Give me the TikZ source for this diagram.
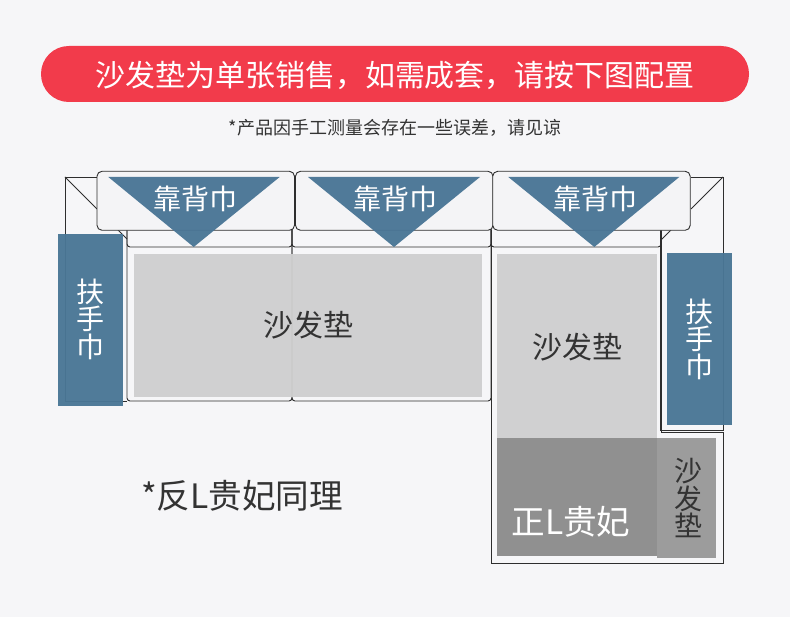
\documentclass[tikz,border=0pt]{standalone}
\usepackage{fontspec}
\usepackage{xcolor}
\setmainfont{Noto Sans CJK SC}
\definecolor{pagebg}{HTML}{F6F6F8}
\definecolor{pillred}{HTML}{F23B4B}
\definecolor{towelblue}{HTML}{4A7696}
\definecolor{backfill}{HTML}{F4F4F6}
\definecolor{linedark}{HTML}{2E2E2E}
\definecolor{seatgrey}{HTML}{CFCFCF}
\definecolor{darkgrey}{HTML}{909090}
\definecolor{sidegrey}{HTML}{9C9C9C}
\definecolor{labeltext}{HTML}{333333}
\tikzset{
    frameline/.style={draw=linedark, line width=0.9pt},
    towel/.style={fill=towelblue, fill opacity=0.96},
    label28/.style={inner sep=0pt, align=center, font=\fontsize{28}{27.5}\selectfont},
    label30/.style={inner sep=0pt, align=center, font=\fontsize{30}{30}\selectfont},
    label33/.style={inner sep=0pt, align=center, font=\fontsize{33.6}{33.6}\selectfont}
}

\begin{document}
\begin{tikzpicture}[x=1pt, y=-1pt]
    % Background and title
    \fill[pagebg] (0,0) rectangle (790,617);
    \useasboundingbox (0,0) rectangle (790,617);
    \fill[pillred, rounded corners=27.8pt] (41,46) rectangle (749,102);
    \node[label30, text=white] (title) at (395,75) {沙发垫为单张销售^^^^ff0c如需成套^^^^ff0c请按下图配置};
    \node[inner sep=0pt, text=labeltext, font=\fontsize{18}{18}\selectfont] (subtitle) at (395,128) {*产品因手工测量会存在一些误差^^^^ff0c请见谅};

    % Arms of the sofa
    \draw[frameline] (97,177) -- (65,177) -- (65,401) -- (127,401);
    \draw[frameline] (65,177) -- (97,209);
    \draw[frameline] (118,230) -- (127,239);
    \draw[frameline] (691,177) -- (723,177) -- (723,430) -- (660,430) -- (660,230);
    \draw[frameline] (723,177) -- (691,209);
    \draw[frameline] (671,230) -- (661,240);

    % Seat outlines
    \draw[frameline, rounded corners=3pt] (127,225) -- (127,401) -- (292,401) -- (292,225);
    \draw[frameline, rounded corners=3pt] (292,225) -- (292,401) -- (491,401) -- (491,225);
    \draw[frameline, rounded corners=3pt] (127,225) -- (127,247) -- (292,247) -- (292,225);
    \draw[frameline, rounded corners=3pt] (292,225) -- (292,247) -- (491,247) -- (491,225);
    \draw[frameline, rounded corners=3pt] (491,225) -- (491,247) -- (661,247) -- (661,225);
    \draw[frameline] (491,230) -- (491,563) -- (723,563) -- (723,432) -- (661,432) -- (661,230);

    % Cushions
    \fill[seatgrey, fill opacity=0.95] (134,254) rectangle (482,397);
    \fill[seatgrey, fill opacity=0.95] (497,254) rectangle (657,438);
    \fill[darkgrey] (497,438) rectangle (657,556);
    \fill[sidegrey] (657,438) rectangle (716,558);

    % Back towels
    \foreach \x in {97, 295.5, 492.7} {
        \draw[frameline, fill=backfill, rounded corners=5pt] (\x,171.3) rectangle ++(197.5,59);
    }
    \foreach \a/\b/\apex in {108.3/279.7/193.7, 308/480/394, 508.3/679.3/594.3} {
        \fill[towel] (\a,177) -- (\b,177) -- (\apex,247) -- cycle;
    }
    \node[label28, text=white] (backa) at (195,199) {靠背巾};
    \node[label28, text=white] (backb) at (395,199) {靠背巾};
    \node[label28, text=white] (backc) at (595,199) {靠背巾};

    % Arm towels
    \fill[towel] (58,234) rectangle (122.7,405.7);
    \fill[towel] (667,253) rectangle (732,424.7);
    \node[label28, text=white] (arma) at (90.5,319) {扶\\手\\巾};
    \node[label28, text=white] (armb) at (699.5,339) {扶\\手\\巾};

    % Labels
    \node[label30, text=labeltext] (seata) at (308,325) {沙发垫};
    \node[label30, text=labeltext] (seatb) at (577,347) {沙发垫};
    \node[label28, text=labeltext] (seatc) at (688.5,498) {沙\\发\\垫};
    \node[label33, text=white] (chaise) at (571,522) {正L贵妃};
    \node[label33, text=labeltext] (note) at (242,496) {*反L贵妃同理};
\end{tikzpicture}
\end{document}
